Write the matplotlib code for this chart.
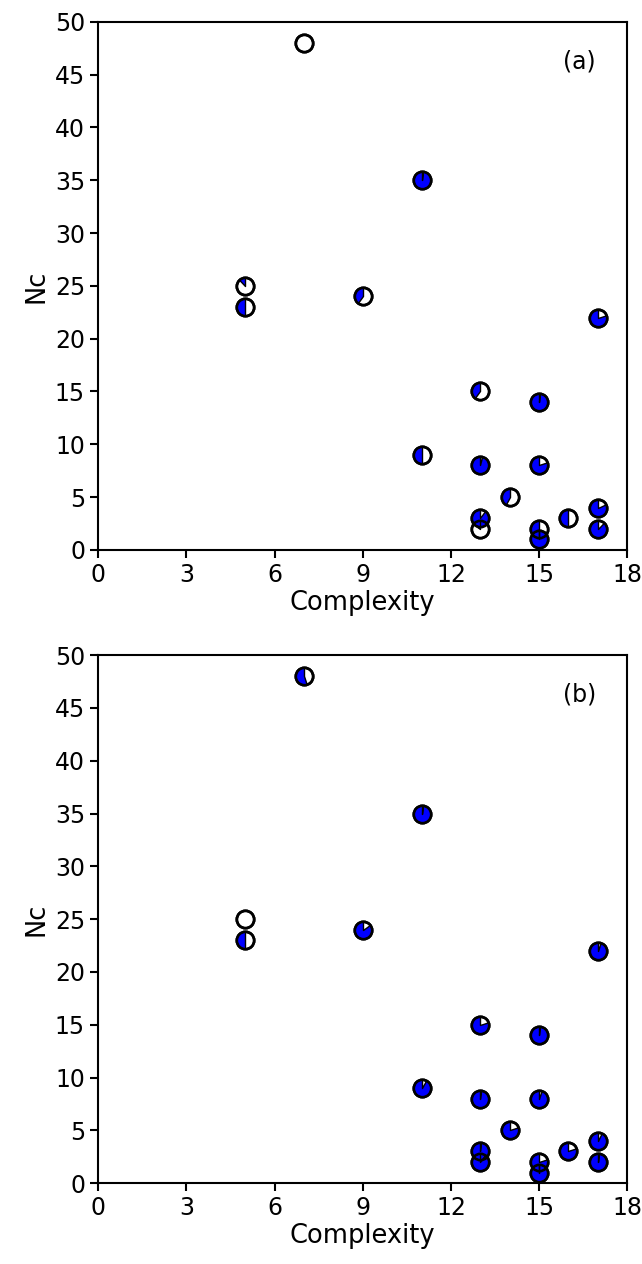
import numpy as np
import matplotlib
matplotlib.use('Agg')
import matplotlib.pyplot as plt
from matplotlib.path import Path

complexity = [7, 11, 5, 5, 9, 17, 13, 15, 11, 13, 15, 14, 13, 13, 15, 15, 16, 17, 17]
nc = [48, 35, 25, 23, 24, 22, 15, 14, 9, 8, 8, 5, 3, 2, 2, 1, 3, 4, 2]

# fraction of each circle coloured blue
frac_a = [0.0, 0.98, 0.12, 0.5, 0.4, 0.8, 0.4, 0.98, 0.5, 0.96, 0.8, 0.42, 0.9, 0.15, 0.4, 1.0, 0.5, 0.82, 0.88]
frac_b = [0.55, 0.98, 0.0, 0.5, 0.85, 0.95, 0.8, 0.98, 0.92, 0.98, 0.95, 0.8, 0.98, 0.9, 0.8, 1.0, 0.8, 0.93, 0.98]

panels = [('(a)', frac_a), ('(b)', frac_b)]


def wedge_marker(f):
    # counterclockwise from 12 o'clock
    ang = np.linspace(np.pi / 2, np.pi / 2 + 2 * np.pi * f, max(int(200 * f), 2))
    verts = [(0, 0), (0, 1)] + [(np.cos(a), np.sin(a)) for a in ang] + [(0, 0)]
    codes = [Path.MOVETO] + [Path.LINETO] * (len(verts) - 2) + [Path.CLOSEPOLY]
    return Path(verts, codes)


fig = plt.figure(figsize=(6.42, 12.64), dpi=100)
boxes = [[0.153, 0.565, 0.824, 0.4177], [0.153, 0.064, 0.824, 0.4177]]
ms = 12.5

for (label, frac), box in zip(panels, boxes):
    ax = fig.add_axes(box)
    for x, y, f in zip(complexity, nc, frac):
        ax.plot(x, y, 'o', ms=ms, mfc='white', mec='black', mew=1.9, zorder=3)
        if f > 0:
            ax.plot(x, y, marker=wedge_marker(f), ms=ms, mfc='blue', mec='black',
                    mew=1.0, ls='none', zorder=4)
        ax.plot(x, y, 'o', ms=ms, mfc='none', mec='black', mew=1.9, zorder=5)
    ax.set_xlim(0, 18)
    ax.set_ylim(0, 50)
    ax.set_xticks([0, 3, 6, 9, 12, 15, 18])
    ax.set_yticks(range(0, 51, 5))
    ax.tick_params(labelsize=17, width=1.5, length=6)
    for s in ax.spines.values():
        s.set_linewidth(1.5)
    ax.set_xlabel('Complexity', fontsize=18.5, labelpad=2)
    ax.set_ylabel('Nc', fontsize=18.5, labelpad=4)
    ax.text(0.91, 0.925, label, transform=ax.transAxes, fontsize=17, ha='center', va='center')

fig.savefig('out.png', dpi=100)
